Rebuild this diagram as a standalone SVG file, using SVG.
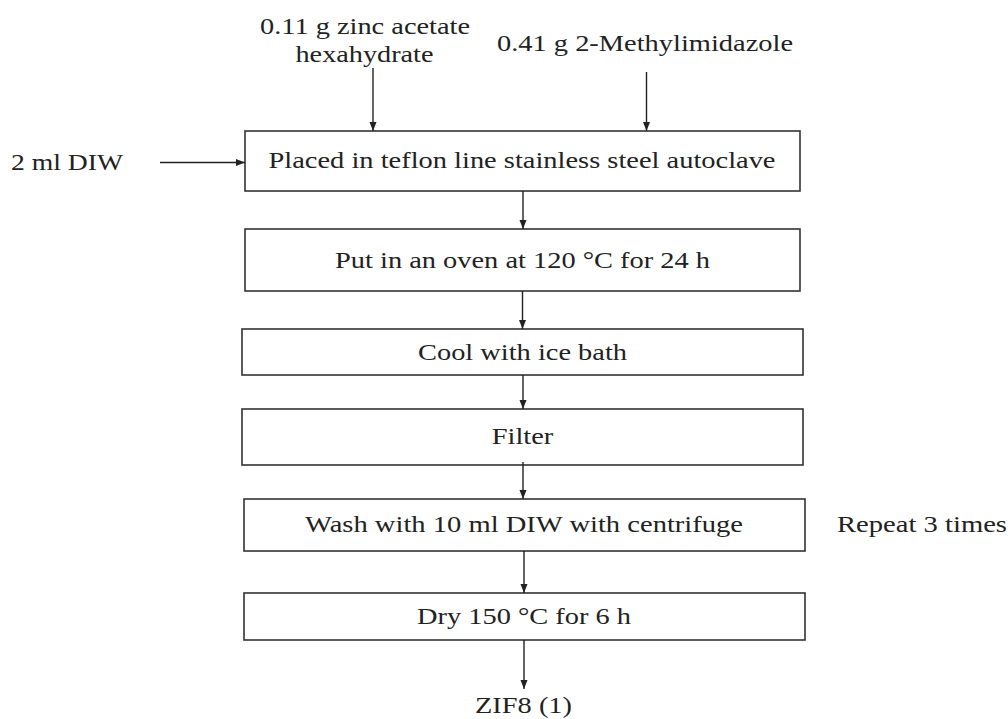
<svg xmlns="http://www.w3.org/2000/svg" width="1008" height="719" viewBox="0 0 1008 719" font-family="Liberation Serif">
<style>
text{font-family:Liberation Serif,serif;font-size:22.5px;fill:#222;text-anchor:middle}
.box{fill:#fff;stroke:#333;stroke-width:1.6}
.conn line{stroke:#222;stroke-width:1.4;marker-end:url(#ah)}
</style>
<defs>
<marker id="ah" markerUnits="userSpaceOnUse" markerWidth="10" markerHeight="9" refX="9" refY="4.5" orient="auto">
<path d="M0,1 L9,4.5 L0,8 z" fill="#222"/>
</marker>
</defs>
<rect width="1008" height="719" fill="#fff"/>
<g id="in-zinc">
<text x="365" y="34" textLength="210" lengthAdjust="spacingAndGlyphs">0.11 g zinc acetate</text>
<text x="364.5" y="62" textLength="138" lengthAdjust="spacingAndGlyphs">hexahydrate</text>
</g>
<g id="in-mim">
<text x="645" y="51" textLength="296" lengthAdjust="spacingAndGlyphs">0.41 g 2-Methylimidazole</text>
</g>
<g id="in-diw">
<text x="67" y="170" textLength="112" lengthAdjust="spacingAndGlyphs">2 ml DIW</text>
</g>
<g id="n1">
<rect class="box" x="245" y="131" width="555" height="60"/>
<text x="522" y="168" textLength="507" lengthAdjust="spacingAndGlyphs">Placed in teflon line stainless steel autoclave</text>
</g>
<g id="n2">
<rect class="box" x="245" y="229" width="555" height="62"/>
<text x="522.5" y="268" textLength="375" lengthAdjust="spacingAndGlyphs">Put in an oven at 120 °C for 24 h</text>
</g>
<g id="n3">
<rect class="box" x="242" y="329" width="561" height="46"/>
<text x="522.5" y="360" textLength="209" lengthAdjust="spacingAndGlyphs">Cool with ice bath</text>
</g>
<g id="n4">
<rect class="box" x="242" y="409" width="561" height="56"/>
<text x="522.5" y="444" textLength="61.5" lengthAdjust="spacingAndGlyphs">Filter</text>
</g>
<g id="n5">
<rect class="box" x="244" y="499" width="561" height="52"/>
<text x="524" y="532" textLength="438" lengthAdjust="spacingAndGlyphs">Wash with 10 ml DIW with centrifuge</text>
</g>
<g id="repeat">
<text x="922" y="532" textLength="170" lengthAdjust="spacingAndGlyphs">Repeat 3 times</text>
</g>
<g id="n6">
<rect class="box" x="244" y="593" width="561" height="47"/>
<text x="524" y="624" textLength="214" lengthAdjust="spacingAndGlyphs">Dry 150 °C for 6 h</text>
</g>
<g id="out">
<text x="523.5" y="713" textLength="97" lengthAdjust="spacingAndGlyphs">ZIF8 (1)</text>
</g>
<g class="conn" id="connectors">
<line x1="373" y1="68" x2="373" y2="131"/>
<line x1="646.5" y1="72" x2="646.5" y2="131"/>
<line x1="160" y1="162.5" x2="245" y2="162.5"/>
<line x1="523" y1="191" x2="523" y2="229"/>
<line x1="522.5" y1="291" x2="522.5" y2="329"/>
<line x1="523" y1="375" x2="523" y2="409"/>
<line x1="523" y1="462" x2="523" y2="499"/>
<line x1="524" y1="551" x2="524" y2="593"/>
<line x1="524" y1="640" x2="524" y2="689"/>
</g>
</svg>
